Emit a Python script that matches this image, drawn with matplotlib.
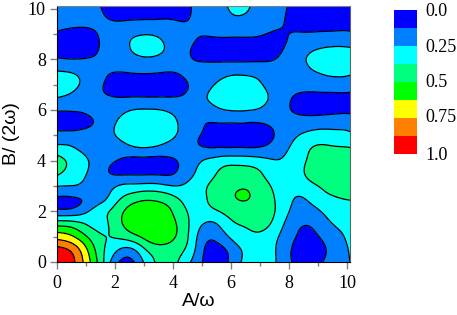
import numpy as np
import matplotlib
matplotlib.use("Agg")
import matplotlib.pyplot as plt
import matplotlib.tri as mtri

x_vals = [0, .5, 1, 1.5, 2, 2.5, 3, 3.5, 4, 4.5, 5, 5.5, 6, 6.5, 7, 7.5, 8, 8.5, 9, 9.5, 10.1]
y_vals = [10.1, 9.5, 9, 8.5, 8, 7.5, 7, 6.5, 6, 5.5, 5, 4.5, 4, 3.5, 3, 2.5, 2, 1.5, 1, .5, 0]
z_vals = [
 [.20,.20,.20,.125,.09,.08,.08,.08,.09,.11,.17,.20,.27,.27,.20,.16,.12,.09,.08,.08,.08],
 [.16,.155,.15,.14,.125,.13,.135,.135,.13,.125,.16,.19,.22,.22,.19,.15,.115,.10,.095,.095,.095],
 [.115,.10,.10,.135,.18,.225,.245,.23,.18,.145,.13,.14,.145,.145,.135,.115,.125,.13,.135,.14,.14],
 [.085,.08,.08,.13,.19,.25,.29,.275,.21,.14,.10,.085,.08,.08,.085,.10,.14,.19,.23,.25,.245],
 [.135,.125,.13,.145,.18,.215,.235,.225,.19,.14,.11,.10,.10,.10,.105,.122,.175,.24,.30,.32,.29],
 [.26,.245,.20,.15,.125,.13,.135,.13,.125,.15,.18,.21,.225,.225,.21,.18,.17,.21,.255,.28,.265],
 [.31,.29,.21,.135,.095,.085,.085,.085,.09,.12,.20,.255,.29,.29,.26,.20,.165,.165,.18,.19,.19],
 [.255,.22,.17,.14,.125,.125,.125,.125,.125,.15,.225,.29,.32,.32,.295,.21,.135,.10,.09,.09,.09],
 [.135,.135,.145,.165,.20,.245,.26,.255,.225,.185,.17,.225,.26,.26,.235,.17,.128,.10,.085,.09,.095],
 [.085,.085,.10,.155,.245,.31,.33,.32,.275,.19,.13,.125,.125,.125,.125,.14,.15,.17,.19,.20,.20],
 [.16,.16,.165,.18,.25,.31,.33,.32,.27,.18,.12,.09,.085,.085,.09,.125,.20,.27,.30,.29,.27],
 [.29,.265,.20,.165,.18,.225,.25,.225,.18,.15,.13,.125,.125,.125,.13,.17,.25,.34,.395,.39,.38],
 [.42,.35,.27,.17,.13,.09,.085,.085,.115,.16,.25,.30,.325,.32,.295,.255,.29,.36,.43,.44,.43],
 [.395,.33,.255,.165,.11,.105,.105,.105,.115,.20,.30,.375,.42,.42,.385,.31,.31,.37,.46,.47,.45],
 [.255,.25,.21,.17,.24,.28,.29,.285,.25,.275,.345,.42,.47,.49,.44,.35,.29,.31,.375,.43,.43],
 [.105,.105,.135,.20,.33,.43,.48,.47,.41,.33,.35,.43,.49,.505,.47,.375,.27,.245,.31,.36,.38],
 [.155,.16,.23,.33,.42,.55,.59,.57,.49,.37,.34,.365,.43,.46,.45,.38,.25,.195,.235,.31,.34],
 [.46,.44,.37,.34,.43,.56,.61,.61,.53,.39,.255,.245,.35,.39,.42,.34,.205,.13,.165,.25,.30],
 [.70,.645,.51,.39,.385,.44,.53,.585,.52,.385,.185,.16,.27,.335,.35,.28,.17,.095,.12,.19,.28],
 [.92,.85,.645,.42,.28,.22,.36,.45,.44,.35,.15,.07,.17,.28,.33,.26,.14,.07,.085,.16,.26],
 [1.05,.92,.70,.44,.17,.08,.26,.40,.41,.28,.13,.03,.16,.28,.33,.26,.15,.05,.10,.17,.25],
]
levels = [-.1, .125, .25, .375, .5, .625, .75, .875, 1.1]
colors = ["#0000ff", "#0080ff", "#00ffff", "#00ff80", "#00ff00", "#ffff00", "#ff8000", "#ff0000"]
legend_labels = ["0.0", "0.25", "0.5", "0.75", "1.0"]
legend_pos = [11, 48, 83, 118, 155]

W, H = 457, 315
fig = plt.figure(figsize=(W/100, H/100), dpi=100)
ax = fig.add_axes([57/W, 1-262/H, 293/W, 256/H])
serif = ["Liberation Serif"]
sans = ["Liberation Sans", "DejaVu Sans"]

X, Y = np.meshgrid(x_vals, y_vals)
Z = np.array(z_vals)
tri = mtri.Triangulation(X.ravel(), Y.ravel())
interp = mtri.CubicTriInterpolator(tri, Z.ravel(), kind="min_E")
fx = np.linspace(0, 10.1, 203)
fy = np.linspace(0, 10.1, 203)
FX, FY = np.meshgrid(fx, fy)
FZ = np.ma.filled(interp(FX, FY), np.nan)
FZ = np.nan_to_num(FZ, nan=.2)
# light smoothing of the read-off surface to remove hand-reading jitter
sig = 1.8
kx = np.arange(-7, 8)
kern = np.exp(-kx**2 / (2 * sig**2)); kern /= kern.sum()
pad = np.pad(FZ, 7, mode="reflect", reflect_type="odd")
pad = np.apply_along_axis(lambda r: np.convolve(r, kern, mode="same"), 0, pad)
pad = np.apply_along_axis(lambda r: np.convolve(r, kern, mode="same"), 1, pad)
FZ = pad[7:-7, 7:-7]
ax.contourf(FX, FY, FZ, levels=levels, colors=colors)
ax.contour(FX, FY, FZ, levels=levels[1:-1], colors="black", linewidths=0.9)
ax.set_xlim(0, 10.1)
ax.set_ylim(0, 10.1)
ax.set_xticks([0, 2, 4, 6, 8, 10])
ax.set_yticks([0, 2, 4, 6, 8, 10])
ax.set_xticks([1, 3, 5, 7, 9], minor=True)
ax.set_yticks([1, 3, 5, 7, 9], minor=True)
ax.tick_params(axis="both", which="major", length=5, width=1, color="#808080", labelsize=13, pad=3)
ax.tick_params(axis="x", which="major", pad=4)
ax.tick_params(axis="both", which="minor", length=3, width=1, color="#808080")
for t in ax.get_xticklabels() + ax.get_yticklabels():
    t.set_fontfamily(serif)
ax.spines["top"].set_color("#808080")
ax.spines["right"].set_color("#606060")
fig.text(199/W, 1-302/H, "A/ω", family=sans, fontsize=14, ha="center", va="center")
fig.text(12/W, 1-134/H, "B/ (2ω)", family=sans, fontsize=14, ha="center", va="center", rotation=90)

lax = fig.add_axes([394/W, 1-154/H, 23/W, 144/H])
lax.barh(range(len(colors)), [1]*len(colors), height=1, color=colors)
lax.set_xlim(0, 1)
lax.set_ylim(len(colors)-.5, -.5)
lax.axis("off")
for lab, py in zip(legend_labels, legend_pos):
    fig.text(425/W, 1-py/H, lab, family=serif, fontsize=13, va="center", ha="left")
fig.savefig("out.png", dpi=100)
